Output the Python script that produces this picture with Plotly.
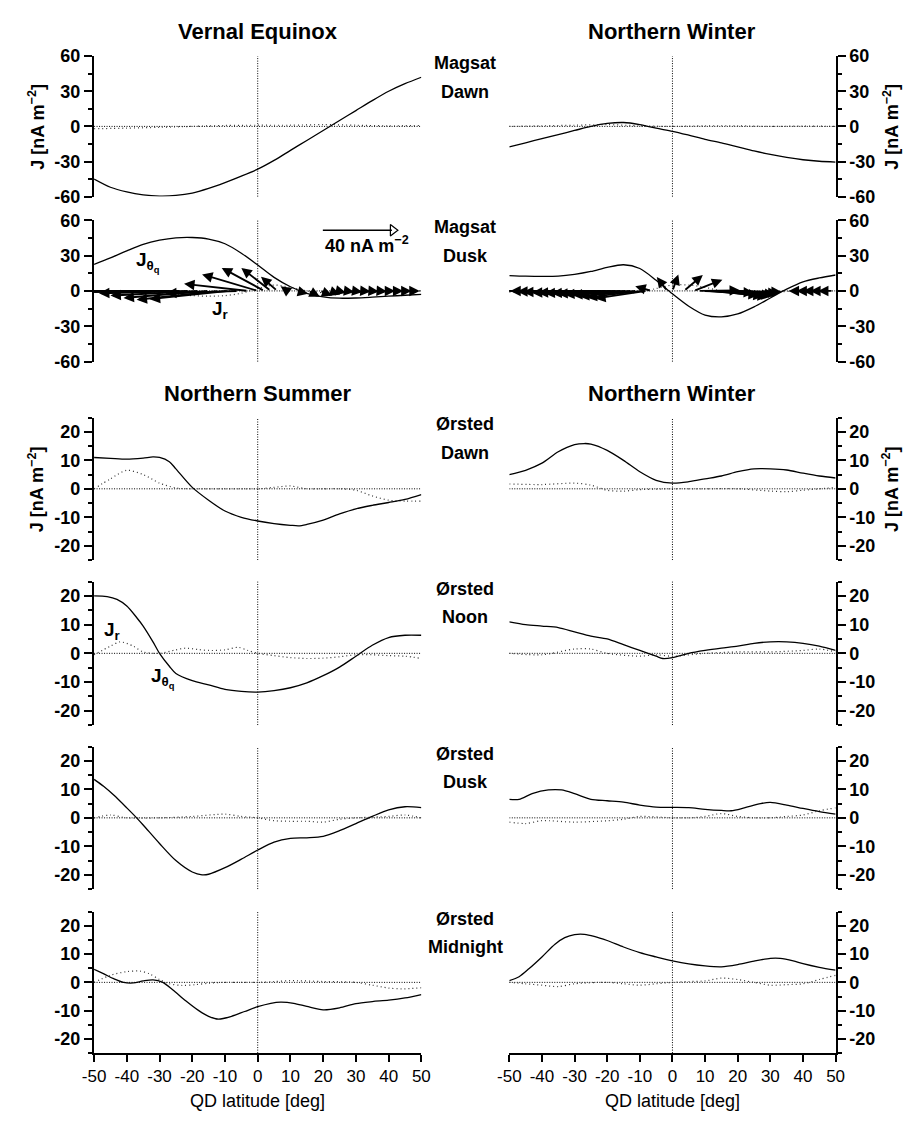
import plotly.graph_objects as go

W, H = 913, 1123
FONT = "Liberation Sans, Arial, Helvetica, sans-serif"

# ---------------- data ----------------
# Row 1 : Magsat Dawn
ve_dawn_jt_lat = [-50,-45,-40,-35,-30,-25,-20,-15,-10,-5,0,5,10,15,20,25,30,35,40,45,50]
ve_dawn_jt = [-45,-52,-56,-58.5,-59.5,-59,-57,-53,-48,-42.5,-36.5,-29,-20.5,-12,-3.5,5,13.5,22,30,36.5,42]
ve_dawn_jr_lat = [-50,-40,-30,-20,-10,0,10,20,30,40,50]
ve_dawn_jr = [-2,-1.5,-0.8,0,0.8,1,1,1.5,1,0.5,0.8]

nw_mdawn_jt_lat = [-50,-45,-40,-35,-30,-25,-20,-15,-10,-5,0,5,10,15,20,25,30,35,40,45,50]
nw_mdawn_jt = [-17.5,-14,-10.5,-7,-3.5,0,2.5,3.3,1.5,-1.5,-4.2,-7.5,-11,-14,-17.5,-21,-24,-26.5,-28.5,-29.8,-30.5]
nw_mdawn_jr_lat = [-50,-40,-30,-20,-10,0,10,20,30,40,50]
nw_mdawn_jr = [0,0.5,1,1.5,0.5,0,0.5,0.5,0,0.3,0]

# Row 2 : Magsat Dusk
ve_dusk_jt_lat = [-50,-45,-40,-35,-30,-25,-20,-15,-10,-5,0,5,10,15,20,25,30,35,40,45,50]
ve_dusk_jt = [22.5,28,34,39.5,43,45,45.3,44,40,32,22,11.5,3.5,-2,-5,-6.2,-6,-5.3,-4.5,-3.7,-3]
ve_dusk_jr_lat = [-50,-40,-30,-25,-20,-15,-10,-5,0,5,10,15,20,25,30,40,50]
ve_dusk_jr = [0,-0.5,-1.5,-3,-4,-4.5,-4,-2,2,5,3,0,-1.5,-1,0,0,0]

nw_mdusk_jt_lat = [-50,-45,-40,-35,-30,-25,-20,-15,-10,-5,0,5,10,15,20,25,30,35,40,45,50]
nw_mdusk_jt = [13,12.5,12.3,12.5,14,16.5,20,22.2,19,9,-2.5,-13,-20.5,-22,-19.5,-13.5,-6,1.5,7.7,11,13.5]
nw_mdusk_jr_lat = [-50,-40,-30,-20,-10,-5,0,5,10,15,20,30,40,50]
nw_mdusk_jr = [-1,-1.5,-2,-3,-1,2,5,5,3,0,-2,-1,0,0]

# Magsat Dusk current vectors (tail latitude, d-latitude, dJ)
ve_vec_lat = [-33,-30,-27,-24,-21,-18,-15,-12,-9,-6,-3,0,2,4,6,9,12,15.5,19,22,24.5,27,29.5,32,34.5,37,39.5,42,44.5,47]
ve_vec_dlat = [-25,-25,-26,-27,-27.5,-27,-26,-25,-24,-22,-19.5,-17,-13,-9,-5,-2,3.4,3.5,3.8,3.2,2.5,2.5,2.5,2.5,2.5,2.5,2.5,2.5,2.5,2.5]
ve_vec_dj = [0,0,-0.5,-1,-2,-4,-6,-7.5,-7,-2,6,14,19.5,19.5,12,4,-2.5,-5,-4,-3,-1.5,-1,-1,-0.5,-0.5,-0.5,0,0,0,0]

nw_vec_lat = [-30,-28,-26,-24.5,-23,-21.5,-20,-18.5,-17,-15.5,-14,-12.5,-11,-9.5,-8,-6.5,-1.6,0,3.5,6.5,8,9.5,11,12.5,14,15.5,17,18.5,20,40.1,42.5,44.5,46.7,49.1]
nw_vec_dlat = [-24,-24,-23.7,-23.1,-22.8,-21.6,-21.3,-20.7,-20.1,-19.8,-19.2,-18.3,-17.7,-16.8,-15.7,-4.9,-3.2,1.8,5.8,8.8,12.7,15.5,15.5,15.5,15.3,15,14.5,14,13.5,-4.5,-4.5,-4.5,-4.5,-4.5]
nw_vec_dj = [0,0,0,-0.5,-1,-1.5,-1.5,-2,-2,-2.5,-3,-3.5,-4.5,-5.5,-6.5,4,11.7,14,13.5,9.5,0.5,-1.5,-3.5,-4.5,-5,-4,-3,-2,-1,0,0,0,0,0]

scale_lat0 = 19.9
scale_len = 22.3      # length in degrees equivalent to 40 nA m^-2
scale_j = 51.5

# Row 3 : Orsted Dawn
ns_dawn_jt_lat = [-50,-45,-40,-35,-32,-30,-27,-25,-20,-15,-10,-5,0,5,10,12.5,15,20,25,30,35,40,45,50]
ns_dawn_jt = [11,10.7,10.4,10.8,11.2,11,9.5,7,0.5,-4,-7.8,-10,-11.3,-12.2,-12.8,-13,-12.5,-11,-8.8,-7,-5.8,-4.8,-3.7,-2]
ns_dawn_jr_lat = [-50,-45,-40,-35,-30,-25,-20,-10,0,5,10,15,20,25,30,35,40,45,50]
ns_dawn_jr = [0,3.5,6.5,5,2,0.3,0,0,0,0.5,1,0,0,0,-0.5,-2.5,-4,-4.3,-4.3]

nw_dawn_jt_lat = [-50,-45,-40,-35,-30,-27,-25,-20,-15,-10,-5,0,5,10,15,20,25,30,35,40,45,50]
nw_dawn_jt = [5,6.5,9,13,15.5,15.9,15.7,13.5,10,6,3,2,2.5,3.5,4.5,6,7,7,6.6,5.5,4.5,3.8]
nw_dawn_jr_lat = [-50,-40,-30,-25,-20,-15,-10,0,10,20,30,35,40,50]
nw_dawn_jr = [1.7,1.5,2,1.3,-0.5,-0.8,-0.3,0,0,0,-0.8,-1,-0.5,0.5]

# Row 4 : Orsted Noon
ns_noon_jt_lat = [-50,-46,-43,-40,-37,-35,-32,-30,-27,-25,-20,-15,-10,-5,0,5,10,15,20,25,30,35,40,45,50]
ns_noon_jt = [20,19.8,18.8,16.5,12.5,9.5,4,0,-4.5,-7,-9.5,-11,-12.6,-13.3,-13.5,-13,-12,-10.3,-7.8,-4.8,-1,2.8,5.5,6.3,6.3]
ns_noon_jr_lat = [-50,-45,-42,-38,-35,-30,-25,-22,-18,-15,-10,-6,-3,0,5,10,15,20,25,30,35,40,45,50]
ns_noon_jr = [-0.5,2.5,4,2.5,0.5,0,1.2,1.8,1.3,1,1.2,2.1,1,0,-0.8,-1.5,-1.8,-1.7,-1.2,-0.5,-0.5,-0.8,-1,-1.8]

nw_noon_jt_lat = [-50,-45,-40,-35,-30,-25,-20,-15,-10,-5,-3,0,5,10,15,20,25,30,35,40,45,50]
nw_noon_jt = [11,10,9.5,9,7.5,6,5,3,1,-1,-1.8,-1.5,0,1,1.8,2.5,3.5,4,4,3.5,2.5,1]
nw_noon_jr_lat = [-50,-40,-30,-25,-20,-10,-5,0,10,20,30,40,45,50]
nw_noon_jr = [0,-0.5,1.5,1.5,0,-1,-0.5,-1,0,0.5,0.5,1,1.5,0.5]

# Row 5 : Orsted Dusk
ns_dusk_jt_lat = [-50,-47,-44,-40,-37,-35,-30,-25,-20,-17,-15,-10,-5,0,5,10,15,20,25,30,35,40,45,50]
ns_dusk_jt = [13.5,11,8,3.5,0,-2.5,-9,-15,-19,-20,-19.8,-17.5,-14.5,-11.3,-8.5,-7.2,-7,-6.5,-4.5,-2,0.5,2.8,3.9,3.6]
ns_dusk_jr_lat = [-50,-45,-40,-30,-20,-10,-5,0,5,10,15,20,25,30,40,45,50]
ns_dusk_jr = [0,1,0,0,0.5,1.3,0.5,0,-1,-1.2,-1.2,-1.5,-0.5,0,0.5,1,0]

nw_dusk_jt_lat = [-50,-47,-43,-38,-34,-30,-25,-20,-15,-10,-5,0,5,10,15,18,22,27,30,35,40,45,50]
nw_dusk_jt = [6.5,6.5,8.5,9.8,9.8,8.5,6.5,6,5.5,4.5,3.8,3.7,3.6,3,2.6,2.5,3.5,5,5.4,4.5,3.3,2.2,1.3]
nw_dusk_jr_lat = [-50,-45,-40,-30,-20,-15,-10,0,5,10,15,20,25,30,35,40,45,50]
nw_dusk_jr = [-1.5,-2,-1,-1.5,-1,-0.5,0.5,0,0,0.5,1.5,0.5,0,0,0.5,1,2.5,3.5]

# Row 6 : Orsted Midnight
ns_mid_jt_lat = [-50,-47,-44,-41,-38,-35,-32,-29,-26,-22,-18,-15,-12,-8,-4,0,4,7,11,15,20,25,30,35,40,45,50]
ns_mid_jt = [4.6,3,1.3,0,-0.2,0.5,0.9,0,-2.6,-6.5,-10,-12,-13,-12,-10.3,-8.6,-7.4,-7,-7.4,-8.5,-9.7,-9,-7.5,-6.8,-6.3,-5.5,-4.3]
ns_mid_jr_lat = [-50,-45,-40,-36,-33,-30,-27,-23,-19,-15,-10,0,5,10,20,30,35,40,44,50]
ns_mid_jr = [0,2.5,3.8,4,3,1,-0.5,-1.1,-0.8,-0.3,0,0,0.3,0.6,0.3,0,-1,-2,-2.3,-1.9]

nw_mid_jt_lat = [-50,-47,-44,-40,-36,-33,-30,-27,-24,-20,-15,-10,-5,0,5,10,15,20,25,30,33,37,40,45,50]
nw_mid_jt = [0.6,2,4.8,9,13.5,15.8,16.9,17,16.3,14.8,12.5,10.5,9,7.6,6.5,5.8,5.5,6.3,7.5,8.5,8.5,7.6,6.6,5.3,4.3]
nw_mid_jr_lat = [-50,-45,-40,-35,-30,-20,-15,-10,-5,0,5,10,15,20,25,30,35,40,45,50]
nw_mid_jr = [0,-0.5,-1,-1.5,-0.5,0,-0.5,-1,-0.5,0,0.3,0.5,1.5,1,0,-1,-0.8,-0.5,1,2.5]

col_titles_top = ["Vernal Equinox", "Northern Winter"]
col_titles_mid = ["Northern Summer", "Northern Winter"]
row_labels = [("Magsat", "Dawn"), ("Magsat", "Dusk"), ("Ørsted", "Dawn"),
              ("Ørsted", "Noon"), ("Ørsted", "Dusk"), ("Ørsted", "Midnight")]
x_ticks = [-50, -40, -30, -20, -10, 0, 10, 20, 30, 40, 50]

panels = [
    (ve_dawn_jt_lat, ve_dawn_jt, ve_dawn_jr_lat, ve_dawn_jr, 60),
    (nw_mdawn_jt_lat, nw_mdawn_jt, nw_mdawn_jr_lat, nw_mdawn_jr, 60),
    (ve_dusk_jt_lat, ve_dusk_jt, ve_dusk_jr_lat, ve_dusk_jr, 60),
    (nw_mdusk_jt_lat, nw_mdusk_jt, nw_mdusk_jr_lat, nw_mdusk_jr, 60),
    (ns_dawn_jt_lat, ns_dawn_jt, ns_dawn_jr_lat, ns_dawn_jr, 25),
    (nw_dawn_jt_lat, nw_dawn_jt, nw_dawn_jr_lat, nw_dawn_jr, 25),
    (ns_noon_jt_lat, ns_noon_jt, ns_noon_jr_lat, ns_noon_jr, 25),
    (nw_noon_jt_lat, nw_noon_jt, nw_noon_jr_lat, nw_noon_jr, 25),
    (ns_dusk_jt_lat, ns_dusk_jt, ns_dusk_jr_lat, ns_dusk_jr, 25),
    (nw_dusk_jt_lat, nw_dusk_jt, nw_dusk_jr_lat, nw_dusk_jr, 25),
    (ns_mid_jt_lat, ns_mid_jt, ns_mid_jr_lat, ns_mid_jr, 25),
    (nw_mid_jt_lat, nw_mid_jt, nw_mid_jr_lat, nw_mid_jr, 25),
]

# ---------------- layout geometry (pixels) ----------------
col_px = [(84, 419), (509, 843)]
row_px = [(47, 190), (214, 358), (415, 560), (582, 728), (750, 895), (918, 1062)]

TICK_FS = 18
LABEL_FS = 18
TITLE_FS = 22


def fx(p):
    return p / W


def fy(p):
    return 1 - p / H


def lab(v):
    return str(v).replace("−", "-")


fig = go.Figure()
layout = dict(width=W, height=H, margin=dict(l=0, r=0, t=0, b=0),
              paper_bgcolor="white", plot_bgcolor="white", showlegend=False,
              font=dict(family=FONT, color="black"))
shapes, annotations = [], []

for i, (jt_lat, jt, jr_lat, jr, rng) in enumerate(panels):
    r, c = divmod(i, 2)
    n = i + 1
    xa = "x" if n == 1 else f"x{n}"
    ya = "y" if n == 1 else f"y{n}"
    xkey = "xaxis" if n == 1 else f"xaxis{n}"
    ykey = "yaxis" if n == 1 else f"yaxis{n}"

    x0p, x1p = col_px[c]
    y0p, y1p = row_px[r]
    bottom = (r == 5)
    layout[xkey] = dict(domain=[fx(x0p), fx(x1p)], range=[-50, 50], anchor=ya,
                        showgrid=False, zeroline=False, fixedrange=True,
                        visible=bottom, showline=bottom, linecolor="black", linewidth=2,
                        ticks="outside" if bottom else "", ticklen=7, tickwidth=1.5,
                        tickcolor="black", tickmode="array", tickvals=x_ticks,
                        ticktext=[lab(v) for v in x_ticks],
                        tickfont=dict(family=FONT, size=17, color="black"))
    if rng == 60:
        major = [-60, -30, 0, 30, 60]
        minor = [-45, -15, 15, 45]
    else:
        major = [-20, -10, 0, 10, 20]
        minor = [-25, -15, -5, 5, 15, 25]
    layout[ykey] = dict(domain=[fy(y1p), fy(y0p)], range=[-rng, rng], anchor=xa,
                        side="left" if c == 0 else "right",
                        showgrid=False, zeroline=False, fixedrange=True,
                        showline=True, linecolor="black", linewidth=2.2,
                        ticks="outside", ticklen=8, tickwidth=2, tickcolor="black",
                        tickmode="array", tickvals=major, ticktext=[lab(v) for v in major],
                        tickfont=dict(family=FONT, size=TICK_FS, color="black", weight="bold"),
                        minor=dict(tickmode="array", tickvals=minor, ticks="outside",
                                   ticklen=4, tickwidth=1.5, tickcolor="black"))

    # zero line and equator line (dotted)
    shapes.append(dict(type="line", xref=xa, yref=ya, x0=-50, x1=50, y0=0, y1=0,
                       line=dict(color="black", width=1, dash="1px,1.5px"), layer="below"))
    shapes.append(dict(type="line", xref=xa, yref=f"{ya} domain", x0=0, x1=0, y0=0, y1=1,
                       line=dict(color="black", width=1, dash="1px,1.5px"), layer="below"))

    fig.add_trace(go.Scatter(x=jr_lat, y=jr, mode="lines", xaxis=xa, yaxis=ya,
                             line=dict(color="#333", width=1.2, dash="1px,3px",
                                       shape="spline", smoothing=0.8),
                             hoverinfo="skip"))
    fig.add_trace(go.Scatter(x=jt_lat, y=jt, mode="lines", xaxis=xa, yaxis=ya,
                             line=dict(color="black", width=1.3, shape="spline", smoothing=0.8),
                             hoverinfo="skip"))

# ---------------- vectors in Magsat Dusk panels ----------------
for n, (lats, dls, djs) in ((3, (ve_vec_lat, ve_vec_dlat, ve_vec_dj)),
                            (4, (nw_vec_lat, nw_vec_dlat, nw_vec_dj))):
    xa, ya = f"x{n}", f"y{n}"
    seg_x, seg_y = [], []
    for t, dl, dj in zip(lats, dls, djs):
        hx, hy = t + dl, dj
        if -50 <= hx <= 50:
            annotations.append(dict(x=hx, y=hy, ax=t, ay=0, xref=xa, yref=ya,
                                    axref=xa, ayref=ya, text="", showarrow=True,
                                    arrowhead=2, arrowsize=1.1, arrowwidth=1.9,
                                    arrowcolor="black", standoff=0))
        else:
            seg_x += [t, hx, None]
            seg_y += [0, hy, None]
    if seg_x:
        fig.add_trace(go.Scatter(x=seg_x, y=seg_y, mode="lines", xaxis=xa, yaxis=ya,
                                 line=dict(color="black", width=1.9), hoverinfo="skip"))

# scale arrow
fig.add_trace(go.Scatter(x=[scale_lat0, scale_lat0 + scale_len - 1.2], y=[scale_j, scale_j],
                         mode="lines", xaxis="x3", yaxis="y3",
                         line=dict(color="black", width=1.5), hoverinfo="skip"))
fig.add_trace(go.Scatter(x=[scale_lat0 + scale_len - 0.9], y=[scale_j], mode="markers",
                         xaxis="x3", yaxis="y3",
                         marker=dict(symbol="triangle-right-open", size=10,
                                     color="black", line=dict(width=1.2)),
                         hoverinfo="skip"))
annotations.append(dict(x=scale_lat0, y=39.5, xref="x3", yref="y3", xanchor="left",
                        yanchor="middle", showarrow=False,
                        text="40 nA m<sup>−2</sup>",
                        font=dict(family=FONT, size=LABEL_FS, weight="bold")))

# J labels
jlabels = [("x3", "y3", -37.8, 24.7, "J<sub>θ<sub>q</sub></sub>"),
           ("x3", "y3", -14.5, -15.8, "J<sub>r</sub>"),
           ("x7", "y7", -47.6, 7.9, "J<sub>r</sub>"),
           ("x7", "y7", -33.3, -8.6, "J<sub>θ<sub>q</sub></sub>")]
for xa, ya, lx, ly, txt in jlabels:
    annotations.append(dict(x=lx, y=ly, xref=xa, yref=ya, xanchor="left",
                            yanchor="middle", showarrow=False, text=txt,
                            font=dict(family=FONT, size=19, weight="bold")))

# column titles
for c in range(2):
    cx = fx((col_px[c][0] + col_px[c][1]) / 2)
    annotations.append(dict(x=cx, y=fy(22), xref="paper", yref="paper", showarrow=False,
                            text=col_titles_top[c], xanchor="center", yanchor="middle",
                            font=dict(family=FONT, size=TITLE_FS, weight="bold")))
    annotations.append(dict(x=cx, y=fy(390), xref="paper", yref="paper", showarrow=False,
                            text=col_titles_mid[c], xanchor="center", yanchor="middle",
                            font=dict(family=FONT, size=TITLE_FS, weight="bold")))
    annotations.append(dict(x=cx, y=fy(1111), xref="paper", yref="paper", showarrow=False,
                            text="QD latitude [deg]", xanchor="center", yanchor="middle",
                            font=dict(family=FONT, size=18)))

# row labels
for r, (l1, l2) in enumerate(row_labels):
    top = row_px[r][0]
    annotations.append(dict(x=fx(464), y=fy(top + 7), xref="paper", yref="paper",
                            showarrow=False, text=l1, xanchor="center", yanchor="middle",
                            font=dict(family=FONT, size=LABEL_FS, weight="bold")))
    annotations.append(dict(x=fx(464), y=fy(top + 36), xref="paper", yref="paper",
                            showarrow=False, text=l2, xanchor="center", yanchor="middle",
                            font=dict(family=FONT, size=LABEL_FS, weight="bold")))

# y axis titles
for r in (0, 2):
    cy = fy((row_px[r][0] + row_px[r][1]) / 2)
    for xpx in (25, 900):
        annotations.append(dict(x=fx(xpx), y=cy, xref="paper", yref="paper",
                                showarrow=False, text="J [nA m<sup>−2</sup>]",
                                textangle=-90, xanchor="center", yanchor="middle",
                                font=dict(family=FONT, size=LABEL_FS, weight="bold")))

layout["shapes"] = shapes
layout["annotations"] = annotations
fig.update_layout(**layout)
fig.write_html("out.html")
